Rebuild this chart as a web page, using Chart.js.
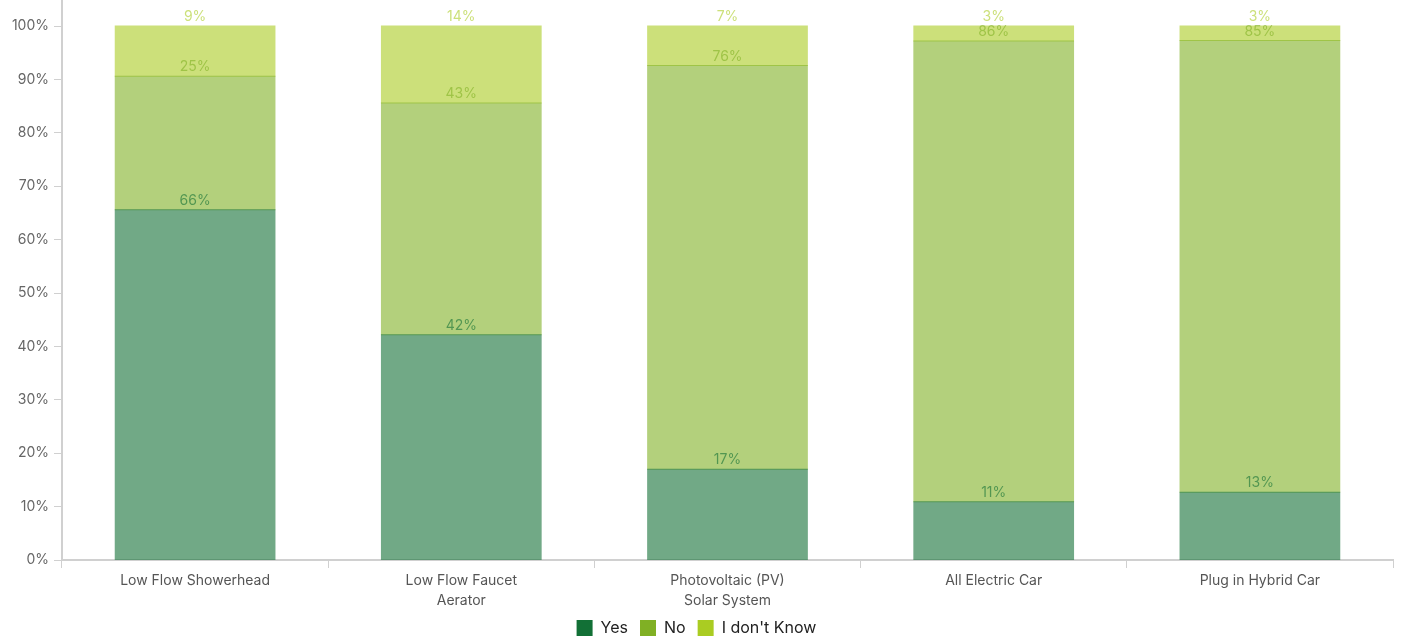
<!DOCTYPE html>
<html>
<head>
<meta charset="utf-8">
<script src="https://cdn.jsdelivr.net/npm/chart.js@4"></script>
<style>
  html, body { margin: 0; padding: 0; background: #fff; }
  #wrap { width: 1403px; height: 639px; position: relative; }
</style>
</head>
<body>
<div id="wrap"><canvas id="adoptionChart"></canvas></div>
<script>
const categories = [
    'Low Flow Showerhead',
    ['Low Flow Faucet', 'Aerator'],
    ['Photovoltaic (PV)', 'Solar System'],
    'All Electric Car',
    'Plug in Hybrid Car'
];
const yesValues = [65.6, 42.2, 17.0, 10.9, 12.7];
const noValues = [25.0, 43.4, 75.6, 86.3, 84.6];
const dontKnowValues = [9.4, 14.4, 7.4, 2.8, 2.7];
const yTicks = [0, 10, 20, 30, 40, 50, 60, 70, 80, 90, 100];

const seriesColors = {
    yes: [18, 112, 54],
    no: [128, 176, 36],
    dontKnow: [170, 204, 34]
};

const rgba = (c, a) => `rgba(${c[0]}, ${c[1]}, ${c[2]}, ${a})`;
const FONT = "'Inter', 'Roboto', sans-serif";

function makeSet(label, data, color) {
    return {
        label: label,
        data: data,
        solid: rgba(color, 1),
        backgroundColor: rgba(color, 0.6),
        borderWidth: 0,
        // slight overlap leaves a darker seam where segments meet
        inflateAmount: 0.5,
        barPercentage: 0.6,
        categoryPercentage: 1.0,
        labelColor: rgba(color, 0.6)
    };
}

// percentage text just above the top edge of every segment
const segmentLabels = {
    id: 'segmentLabels',
    afterDatasetsDraw(chart) {
        const ctx = chart.ctx;
        ctx.save();
        ctx.font = '14px ' + FONT;
        ctx.textAlign = 'center';
        ctx.textBaseline = 'bottom';
        chart.data.datasets.forEach((ds, i) => {
            chart.getDatasetMeta(i).data.forEach((bar, j) => {
                ctx.fillStyle = ds.labelColor;
                ctx.fillText(Math.round(ds.data[j]) + '%', bar.x, bar.y - 2);
            });
        });
        ctx.restore();
    }
};

new Chart(document.getElementById('adoptionChart'), {
    type: 'bar',
    data: {
        labels: categories,
        datasets: [
            makeSet('Yes', yesValues, seriesColors.yes),
            makeSet('No', noValues, seriesColors.no),
            makeSet("I don't Know", dontKnowValues, seriesColors.dontKnow)
        ]
    },
    options: {
        responsive: true,
        maintainAspectRatio: false,
        animation: false,
        layout: { padding: { left: 0, right: 10, top: 0, bottom: -7 } },
        plugins: {
            tooltip: { enabled: false },
            legend: {
                position: 'bottom',
                labels: {
                    boxWidth: 16,
                    boxHeight: 16,
                    padding: 12,
                    color: '#222',
                    font: { family: FONT, size: 16 },
                    generateLabels: (chart) => chart.data.datasets.map((ds, i) => ({
                        text: ds.label,
                        fillStyle: ds.solid,
                        strokeStyle: ds.solid,
                        lineWidth: 0,
                        fontColor: '#222',
                        datasetIndex: i
                    }))
                }
            }
        },
        scales: {
            x: {
                stacked: true,
                border: { color: '#d0d0d0', width: 2 },
                grid: {
                    offset: true,
                    drawOnChartArea: false,
                    drawTicks: true,
                    tickLength: 8,
                    color: '#d0d0d0',
                    lineWidth: 1
                },
                ticks: {
                    color: '#555',
                    padding: 3,
                    maxRotation: 0,
                    autoSkip: false,
                    font: { family: FONT, size: 14, lineHeight: 1.4 }
                },
                afterFit: (scale) => { scale.height = 48; }
            },
            y: {
                stacked: true,
                min: 0,
                max: 104.87,
                afterBuildTicks: (scale) => {
                    scale.ticks = yTicks.map(v => ({ value: v }));
                },
                border: { color: '#d0d0d0', width: 2 },
                grid: {
                    drawOnChartArea: false,
                    drawTicks: true,
                    tickLength: 8,
                    color: '#d0d0d0'
                },
                ticks: {
                    color: '#666',
                    padding: 5,
                    font: { family: FONT, size: 14 },
                    callback: (v) => v + '%'
                },
                afterFit: (scale) => {
                    scale.width = 62;
                    scale.paddingTop = 0;
                    scale.paddingBottom = 0;
                }
            }
        }
    },
    plugins: [segmentLabels]
});
</script>
</body>
</html>
